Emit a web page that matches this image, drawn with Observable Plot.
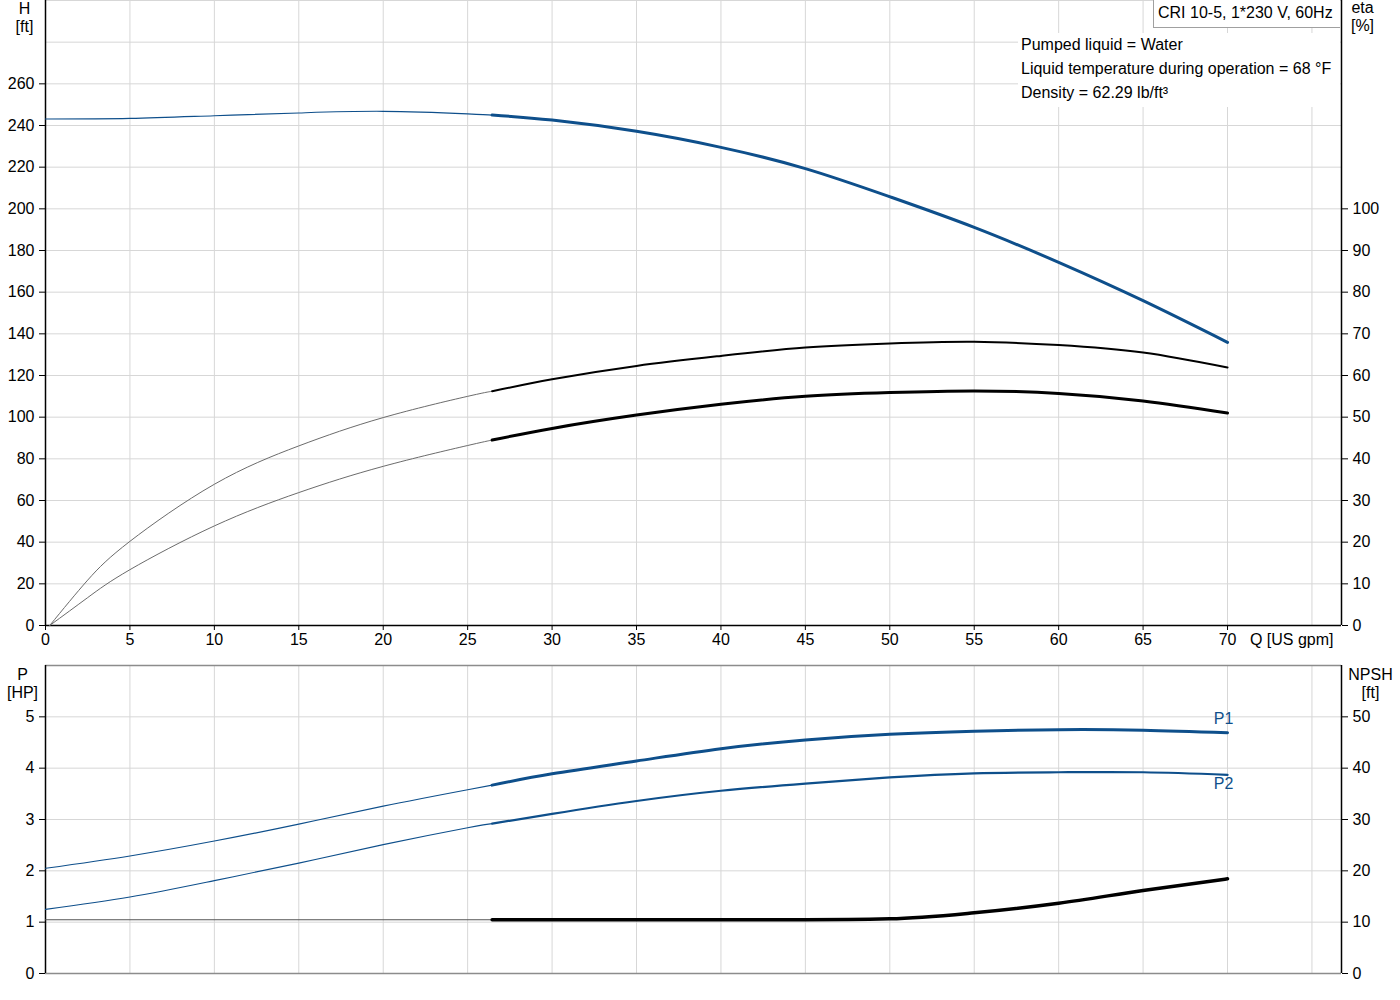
<!DOCTYPE html>
<html>
<head>
<meta charset="utf-8">
<script src="https://cdn.jsdelivr.net/npm/d3@7"></script>
<script src="https://cdn.jsdelivr.net/npm/@observablehq/plot@0.6"></script>
<style>
  body { margin: 0; background: #fff; font-family: "Liberation Sans", Arial, sans-serif; }
  #wrap { position: relative; width: 1400px; height: 1000px; overflow: hidden; }
  #topChart { position: absolute; left: 0; top: 0; }
  #bottomChart { position: absolute; left: 0; top: 660px; }
  #infoBox { position: absolute; left: 1018px; top: 33px; width: 322px; height: 74px; background: #fff; }
  #infoBox div { position: absolute; left: 3px; font-size: 16px; color: #000; white-space: nowrap; line-height: 16px; }
  #titleBox { position: absolute; left: 1153px; top: -1px; width: 187px; height: 29px; background: #fff;
              border: 1px solid #a0a0a0; border-right: none; box-sizing: border-box; font-size: 16px;
              line-height: 16px; color: #000; white-space: nowrap; }
  #titleBox span { position: absolute; left: 4px; top: 5px; }
</style>
</head>
<body>
<div id="wrap">
  <div id="topChart"></div>
  <div id="bottomChart"></div>
  <div id="infoBox">
    <div style="top:4px">Pumped liquid = Water</div>
    <div style="top:28px">Liquid temperature during operation = 68 °F</div>
    <div style="top:52px">Density = 62.29 lb/ft³</div>
  </div>
  <div id="titleBox"><span>CRI 10-5, 1*230 V, 60Hz</span></div>
</div>
<script>
// ---- data ----
const qHead = [0, 5, 10, 15, 20, 25, 26.45, 30, 35, 40, 45, 50, 55, 60, 65, 70];
const headFt = [243.1, 243.4, 244.7, 246.0, 246.8, 245.6, 245.0, 242.6, 237.2, 229.5, 219.3, 205.8, 191.1, 174.3, 155.9, 135.9];

const qEta = [0.25, 2.5, 5, 10, 15, 20, 25, 26.45, 30, 35, 40, 45, 50, 55, 60, 65, 70];
const etaUpper = [0, 10.9, 20.2, 33.9, 43.1, 49.9, 55.0, 56.2, 59.1, 62.3, 64.7, 66.7, 67.7, 68.1, 67.3, 65.5, 61.9];
const etaLower = [0, 6.7, 13.4, 23.9, 31.9, 38.2, 43.2, 44.5, 47.3, 50.5, 53.1, 55.0, 55.9, 56.3, 55.7, 53.9, 51.0];

const qPower = [0, 5, 10, 15, 20, 25, 26.45, 30, 35, 40, 45, 50, 55, 60, 65, 70];
const p1Hp = [2.05, 2.29, 2.58, 2.91, 3.26, 3.58, 3.67, 3.89, 4.14, 4.38, 4.55, 4.66, 4.72, 4.75, 4.74, 4.69];
const p2Hp = [1.25, 1.49, 1.81, 2.15, 2.51, 2.84, 2.92, 3.11, 3.36, 3.56, 3.70, 3.82, 3.90, 3.92, 3.92, 3.87];
const npshFt = [10.47, 10.47, 10.47, 10.47, 10.47, 10.47, 10.47, 10.47, 10.47, 10.47, 10.48, 10.66, 11.83, 13.7, 16.17, 18.44];

const dutyStart = 26.45;      // start of the bold (duty) range
const qMax = 76.75;

const qTicks = [0, 5, 10, 15, 20, 25, 30, 35, 40, 45, 50, 55, 60, 65, 70];
const qGrid = [0, 5, 10, 15, 20, 25, 30, 35, 40, 45, 50, 55, 60, 65, 70, 75];
const hTicks = [0, 20, 40, 60, 80, 100, 120, 140, 160, 180, 200, 220, 240, 260];
const hGrid = [0, 20, 40, 60, 80, 100, 120, 140, 160, 180, 200, 220, 240, 260, 280, 300];
const etaTicks = [0, 10, 20, 30, 40, 50, 60, 70, 80, 90, 100];
const pTicks = [0, 1, 2, 3, 4, 5];
const pGrid = [0, 1, 2, 3, 4, 5, 6];
const npshTicks = [0, 10, 20, 30, 40, 50];

// ---- helpers ----
const rows = (q, v) => q.map((x, i) => ({q: x, v: v[i]}));
const thin = (r) => r.filter(d => d.q <= dutyStart);
const thick = (r) => r.filter(d => d.q >= dutyStart);

const blue = "#0e4f8b";
const gridColor = "#d7d7d7";
const font = "'Liberation Sans', Arial, sans-serif";
const smooth = "natural";

const head = rows(qHead, headFt);
const etaU = rows(qEta, etaUpper);
const etaL = rows(qEta, etaLower);
const p1 = rows(qPower, p1Hp);
const p2 = rows(qPower, p2Hp);
const npsh = rows(qPower, npshFt);

// ---- top chart: H and eta ----
const topPlot = Plot.plot({
  width: 1400, height: 660,
  marginLeft: 45, marginRight: 59, marginTop: 0, marginBottom: 35,
  x: {domain: [0, qMax]},
  y: {domain: [0, 300]},
  style: {fontFamily: font, fontSize: "16px", color: "#000", background: "transparent", overflow: "visible"},
  marks: [
    Plot.gridX(qGrid, {stroke: gridColor, strokeOpacity: 1}),
    Plot.gridY(hGrid, {stroke: gridColor, strokeOpacity: 1}),
    Plot.axisY(hTicks, {anchor: "left", tickSize: 6, tickPadding: 5, label: null, fontSize: 16}),
    Plot.axisY(etaTicks.map(e => e * 2), {anchor: "right", tickSize: 6, tickPadding: 5, tickFormat: d => d / 2, label: null, fontSize: 16}),
    Plot.axisX(qTicks, {anchor: "bottom", tickSize: 5, tickPadding: 3, label: null, fontSize: 16}),
    Plot.ruleY([0], {stroke: "#000", strokeWidth: 1.5}),
    Plot.ruleX([0], {stroke: "#000", strokeWidth: 1.5}),
    Plot.ruleX([qMax], {stroke: "#000", strokeWidth: 1.5}),
    // eta curves (right axis: eta % = H/2 on this scale)
    Plot.line(thin(etaU), {x: "q", y: d => d.v * 2, stroke: "#6b6b6b", strokeWidth: 1, curve: smooth}),
    Plot.line(thick(etaU), {x: "q", y: d => d.v * 2, stroke: "#000", strokeWidth: 2, curve: smooth}),
    Plot.line(thin(etaL), {x: "q", y: d => d.v * 2, stroke: "#6b6b6b", strokeWidth: 1, curve: smooth}),
    Plot.line(thick(etaL), {x: "q", y: d => d.v * 2, stroke: "#000", strokeWidth: 3, curve: smooth}),
    // head curve
    Plot.line(thin(head), {x: "q", y: "v", stroke: blue, strokeWidth: 1.1, curve: smooth}),
    Plot.line(thick(head), {x: "q", y: "v", stroke: blue, strokeWidth: 3, curve: smooth}),
    // axis titles
    Plot.text(["H\n[ft]"], {text: d => d, frameAnchor: "top-left", dx: -21, dy: 1, lineAnchor: "top", textAnchor: "middle", lineHeight: 1.125, fontSize: 16, fill: "#000"}),
    Plot.text(["eta\n[%]"], {text: d => d, frameAnchor: "top-right", dx: 21, dy: 0, lineAnchor: "top", textAnchor: "middle", lineHeight: 1.125, fontSize: 16, fill: "#000"}),
    Plot.text(["Q [US gpm]"], {text: d => d, frameAnchor: "bottom-right", dx: -8, dy: 14, lineAnchor: "middle", textAnchor: "end", fontSize: 16, fill: "#000"})
  ]
});
document.getElementById("topChart").appendChild(topPlot);

// ---- bottom chart: P and NPSH ----
const lastOf = (r) => [r[r.length - 1]];
const bottomPlot = Plot.plot({
  width: 1400, height: 340,
  marginLeft: 45, marginRight: 59, marginTop: 5, marginBottom: 27,
  x: {domain: [0, qMax], axis: null},
  y: {domain: [0, 6], axis: null},
  style: {fontFamily: font, fontSize: "16px", color: "#000", background: "transparent", overflow: "visible"},
  marks: [
    Plot.gridX(qGrid, {stroke: gridColor, strokeOpacity: 1}),
    Plot.gridY(pGrid, {stroke: gridColor, strokeOpacity: 1}),
    Plot.axisY(pTicks, {anchor: "left", tickSize: 6, tickPadding: 5, tickFormat: d => String(d), label: null, fontSize: 16}),
    Plot.axisY(npshTicks.map(n => n / 10), {anchor: "right", tickSize: 6, tickPadding: 5, tickFormat: d => String(Math.round(d * 10)), label: null, fontSize: 16}),
    Plot.ruleY([6], {stroke: "#8c8c8c", strokeWidth: 1.5}),
    Plot.ruleY([0], {stroke: "#8c8c8c", strokeWidth: 1.5}),
    Plot.ruleX([0], {stroke: "#000", strokeWidth: 1.5}),
    Plot.ruleX([qMax], {stroke: "#000", strokeWidth: 1.5}),
    // NPSH (right axis: ft = P*10 on this scale)
    Plot.line(thin(npsh), {x: "q", y: d => d.v / 10, stroke: "#555", strokeWidth: 1.2, curve: "monotone-x"}),
    Plot.line(thick(npsh), {x: "q", y: d => d.v / 10, stroke: "#000", strokeWidth: 3.5, curve: "monotone-x"}),
    // P1, P2
    Plot.line(thin(p1), {x: "q", y: "v", stroke: blue, strokeWidth: 1.1, curve: smooth}),
    Plot.line(thick(p1), {x: "q", y: "v", stroke: blue, strokeWidth: 3, curve: smooth}),
    Plot.line(thin(p2), {x: "q", y: "v", stroke: blue, strokeWidth: 1.1, curve: smooth}),
    Plot.line(thick(p2), {x: "q", y: "v", stroke: blue, strokeWidth: 2.2, curve: smooth}),
    Plot.text(lastOf(p1), {x: "q", y: "v", text: () => "P1", dx: -4, dy: -14, fill: blue, fontSize: 16}),
    Plot.text(lastOf(p2), {x: "q", y: "v", text: () => "P2", dx: -4, dy: 9, fill: blue, fontSize: 16}),
    // axis titles
    Plot.text(["P\n[HP]"], {text: d => d, frameAnchor: "top-left", dx: -23, dy: 2, lineAnchor: "top", textAnchor: "middle", lineHeight: 1.125, fontSize: 16, fill: "#000"}),
    Plot.text(["NPSH\n[ft]"], {text: d => d, frameAnchor: "top-right", dx: 29, dy: 2, lineAnchor: "top", textAnchor: "middle", lineHeight: 1.125, fontSize: 16, fill: "#000"})
  ]
});
document.getElementById("bottomChart").appendChild(bottomPlot);
</script>
</body>
</html>
